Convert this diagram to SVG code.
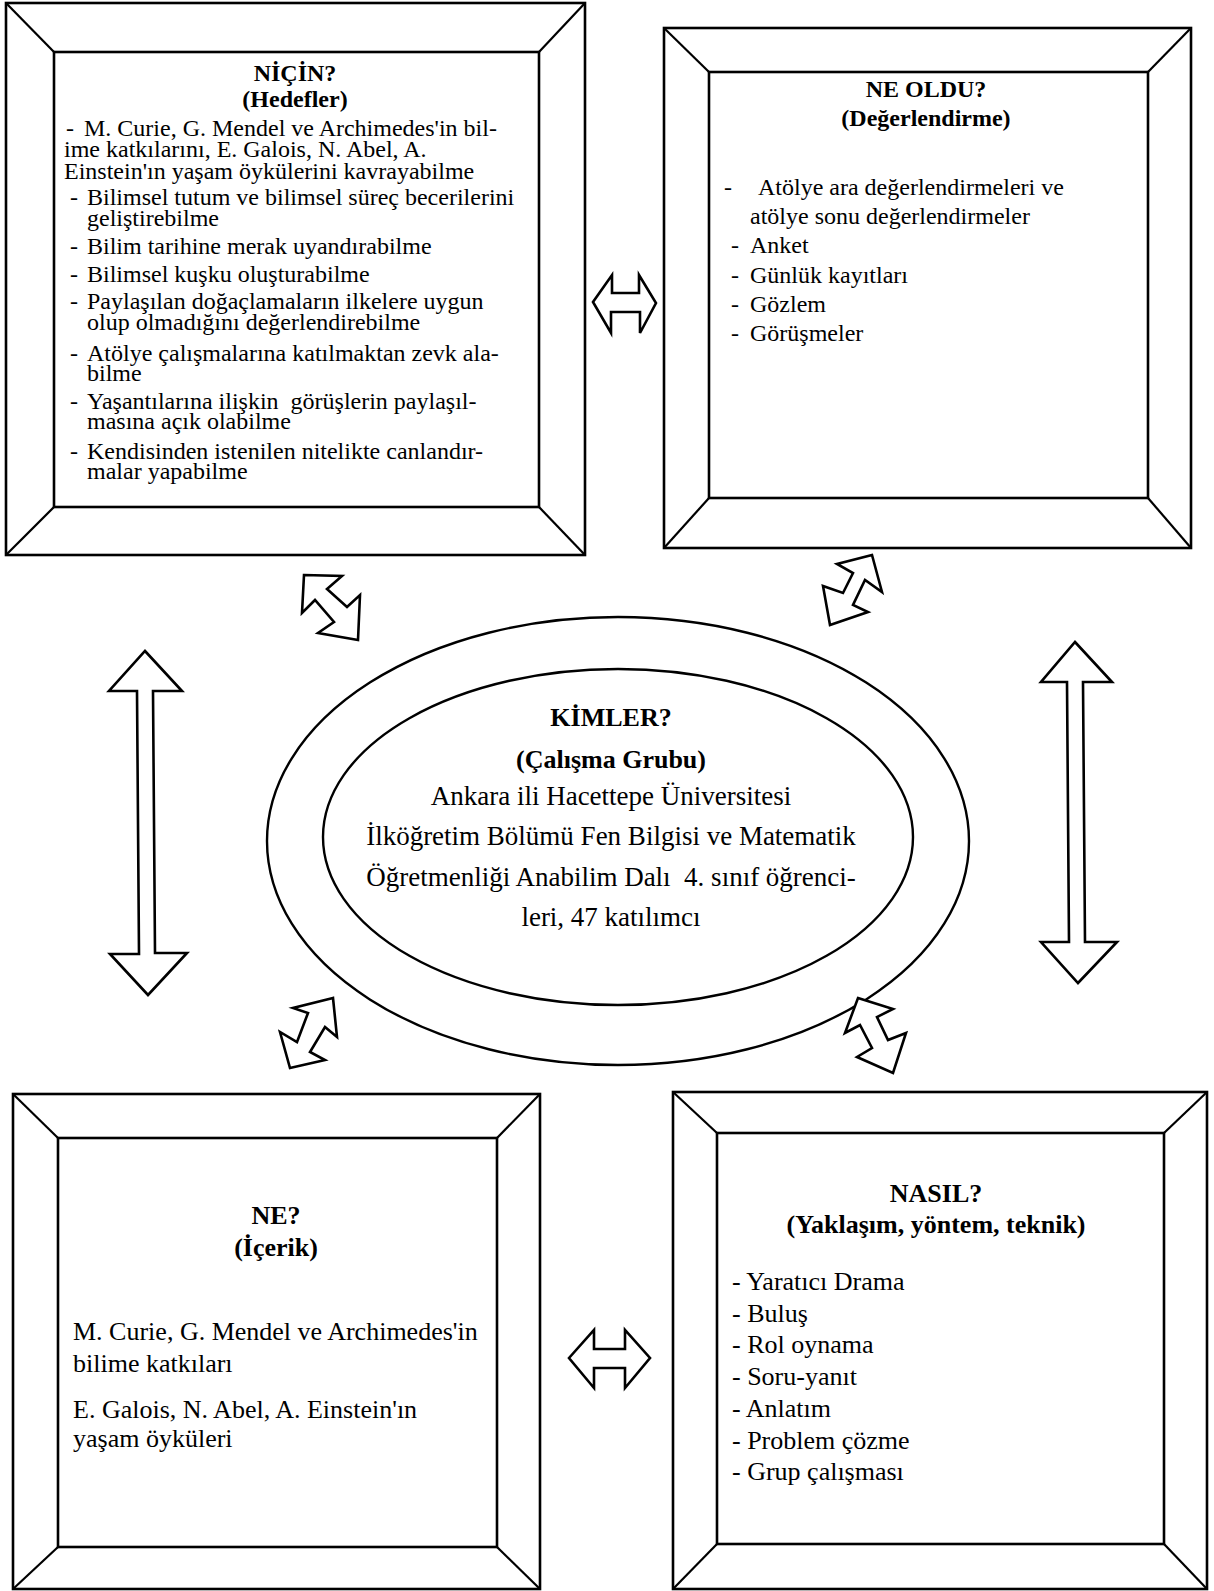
<svg xmlns="http://www.w3.org/2000/svg" width="1214" height="1591" viewBox="0 0 1214 1591">
<style>
.frame{fill:none;stroke:#000;stroke-width:2.6}
.diag{stroke:#000;stroke-width:2.2}
.arrow{fill:#fff;stroke:#000;stroke-width:2.6;stroke-linejoin:miter}
.ell{fill:none;stroke:#000;stroke-width:2.4}
text{font-family:"Liberation Serif","Times New Roman",serif;fill:#000}
.t24{font-size:24px}
.t26{font-size:26px}
.b24{font-size:24px;font-weight:bold;text-anchor:middle}
.b26{font-size:26px;font-weight:bold;text-anchor:middle}
.c27{font-size:27px;text-anchor:middle}
</style>
<rect width="1214" height="1591" fill="#fff"/>

<g id="nicin">
<rect class="frame" x="6" y="3" width="579" height="552"/>
<rect class="frame" x="54" y="52" width="485" height="455"/>
<line class="diag" x1="6" y1="3" x2="54" y2="52"/>
<line class="diag" x1="585" y1="3" x2="539" y2="52"/>
<line class="diag" x1="6" y1="555" x2="54" y2="507"/>
<line class="diag" x1="585" y1="555" x2="539" y2="507"/>
<text class="b24" x="295" y="81">NİÇİN?</text>
<text class="b24" x="295" y="107">(Hedefler)</text>
<g class="t24">
<text x="66" y="136">-</text><text x="84" y="136">M. Curie, G. Mendel ve Archimedes'in bil-</text>
<text x="64" y="157">ime katkılarını, E. Galois, N. Abel, A.</text>
<text x="64" y="179">Einstein'ın yaşam öykülerini kavrayabilme</text>
<text x="70" y="205">-</text><text x="87" y="205">Bilimsel tutum ve bilimsel süreç becerilerini</text>
<text x="87" y="226">geliştirebilme</text>
<text x="70" y="254">-</text><text x="87" y="254">Bilim tarihine merak uyandırabilme</text>
<text x="70" y="282">-</text><text x="87" y="282">Bilimsel kuşku oluşturabilme</text>
<text x="70" y="309">-</text><text x="87" y="309">Paylaşılan doğaçlamaların ilkelere uygun</text>
<text x="87" y="330">olup olmadığını değerlendirebilme</text>
<text x="70" y="361">-</text><text x="87" y="361">Atölye çalışmalarına katılmaktan zevk ala-</text>
<text x="87" y="381">bilme</text>
<text x="70" y="409">-</text><text x="87" y="409" xml:space="preserve">Yaşantılarına ilişkin  görüşlerin paylaşıl-</text>
<text x="87" y="429">masına açık olabilme</text>
<text x="70" y="459">-</text><text x="87" y="459">Kendisinden istenilen nitelikte canlandır-</text>
<text x="87" y="479">malar yapabilme</text>
</g>
</g>

<g id="ne-oldu">
<rect class="frame" x="664" y="28" width="527" height="520"/>
<rect class="frame" x="709" y="72" width="439" height="426"/>
<line class="diag" x1="664" y1="28" x2="709" y2="72"/>
<line class="diag" x1="1191" y1="28" x2="1148" y2="72"/>
<line class="diag" x1="664" y1="548" x2="709" y2="498"/>
<line class="diag" x1="1191" y1="548" x2="1148" y2="498"/>
<text class="b24" x="926" y="97">NE OLDU?</text>
<text class="b24" x="926" y="126">(Değerlendirme)</text>
<g class="t24">
<text x="724" y="195">-</text><text x="758" y="195">Atölye ara değerlendirmeleri ve</text>
<text x="750" y="224">atölye sonu değerlendirmeler</text>
<text x="731" y="253">-</text><text x="750" y="253">Anket</text>
<text x="731" y="283">-</text><text x="750" y="283">Günlük kayıtları</text>
<text x="731" y="312">-</text><text x="750" y="312">Gözlem</text>
<text x="731" y="341">-</text><text x="750" y="341">Görüşmeler</text>
</g>
</g>

<g id="kimler">
<ellipse class="ell" cx="618" cy="841" rx="351" ry="224"/>
<ellipse class="ell" cx="618" cy="837" rx="295" ry="168"/>
<text class="b26" x="611" y="726">KİMLER?</text>
<text class="b26" x="611" y="768">(Çalışma Grubu)</text>
<text class="c27" x="611" y="805">Ankara ili Hacettepe Üniversitesi</text>
<text class="c27" x="611" y="845">İlköğretim Bölümü Fen Bilgisi ve Matematik</text>
<text class="c27" x="611" y="886" xml:space="preserve">Öğretmenliği Anabilim Dalı  4. sınıf öğrenci-</text>
<text class="c27" x="611" y="926">leri, 47 katılımcı</text>
</g>

<g id="ne">
<rect class="frame" x="13" y="1094" width="527" height="495"/>
<rect class="frame" x="58" y="1138" width="439" height="409"/>
<line class="diag" x1="13" y1="1094" x2="58" y2="1138"/>
<line class="diag" x1="540" y1="1094" x2="497" y2="1138"/>
<line class="diag" x1="13" y1="1589" x2="58" y2="1547"/>
<line class="diag" x1="540" y1="1589" x2="497" y2="1547"/>
<text class="b26" x="276" y="1224">NE?</text>
<text class="b26" x="276" y="1256">(İçerik)</text>
<g class="t26">
<text x="73" y="1340">M. Curie, G. Mendel ve Archimedes'in</text>
<text x="73" y="1372">bilime katkıları</text>
<text x="73" y="1418">E. Galois, N. Abel, A. Einstein'ın</text>
<text x="73" y="1447">yaşam öyküleri</text>
</g>
</g>

<g id="nasil">
<rect class="frame" x="673" y="1092" width="534" height="497"/>
<rect class="frame" x="717" y="1133" width="447" height="411"/>
<line class="diag" x1="673" y1="1092" x2="717" y2="1133"/>
<line class="diag" x1="1207" y1="1092" x2="1164" y2="1133"/>
<line class="diag" x1="673" y1="1589" x2="717" y2="1544"/>
<line class="diag" x1="1207" y1="1589" x2="1164" y2="1544"/>
<text class="b26" x="936" y="1202">NASIL?</text>
<text class="b26" x="936" y="1233">(Yaklaşım, yöntem, teknik)</text>
<g class="t26">
<text x="732" y="1290">- Yaratıcı Drama</text>
<text x="732" y="1322">- Buluş</text>
<text x="732" y="1353">- Rol oynama</text>
<text x="732" y="1385">- Soru-yanıt</text>
<text x="732" y="1417">- Anlatım</text>
<text x="732" y="1449">- Problem çözme</text>
<text x="732" y="1480">- Grup çalışması</text>
</g>
</g>

<g id="connectors">
<polygon class="arrow" points="593,302 612,275 612,293 639,293 639,275 656,303 640,333 640,312 611,312 611,333"/>
<polygon class="arrow" points="569,1358 594,1330 594,1349 625,1349 625,1330 650,1358 625,1388 625,1368 594,1368 594,1388"/>
<polygon class="arrow" points="145,651 182,691 153,691 155,953 187,953 148,995 110,954 139,954 137,691 109,691"/>
<polygon class="arrow" points="1075,642 1112,682 1083,682 1085,942 1117,942 1078,983 1041,942 1069,942 1067,682 1041,682"/>
<polygon class="arrow" points="304,575 342,576 327,589 347,607 360,595 358,640 318,633 334,622 315,600 302,613"/>
<polygon class="arrow" points="872,555 837,564 853,573 843,593 823,586 830,625 868,612 853,605 865,580 882,592"/>
<polygon class="arrow" points="333,998 293,1008 308,1013 297,1042 280,1032 290,1068 325,1060 310,1052 325,1027 337,1037"/>
<polygon class="arrow" points="858,998 893,1009 877,1017 888,1040 906,1033 893,1073 857,1057 872,1048 860,1025 845,1033"/>
</g>
</svg>
